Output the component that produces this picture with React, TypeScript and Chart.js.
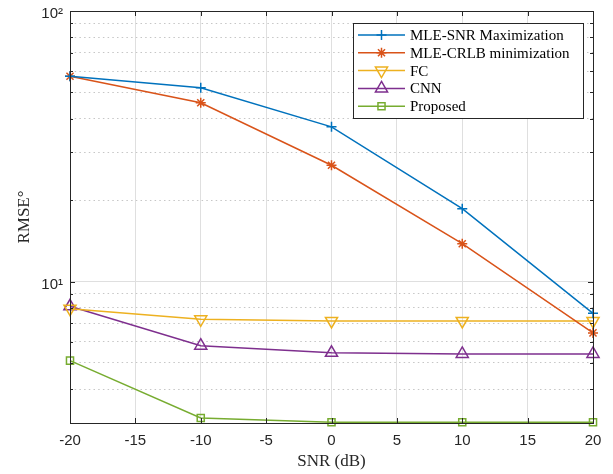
import React, { useEffect, useRef } from "react";
import { Chart, registerables } from "chart.js";
import { drawPoint } from "chart.js/helpers";

Chart.register(...registerables);

const snr = [-20, -10, 0, 10, 20];
const mleSnr = [57.4, 52.0, 37.3, 18.6, 7.63];
const mleCrlb = [57.4, 45.8, 26.9, 13.8, 6.46];
const fc = [7.94, 7.25, 7.15, 7.15, 7.15];
const cnn = [8.1, 5.79, 5.45, 5.4, 5.4];
const proposed = [5.1, 3.13, 3.02, 3.02, 3.02];

const xTicks = [-20, -15, -10, -5, 0, 5, 10, 15, 20];
const yTicks = [3, 4, 5, 6, 7, 8, 9, 10, 20, 30, 40, 50, 60, 70, 80, 90, 100];
const yLabels: Record<number, string> = { 10: "10\u00B9", 100: "10\u00B2" };

const seriesNames = [
  "MLE-SNR Maximization",
  "MLE-CRLB minimization",
  "FC",
  "CNN",
  "Proposed",
];
const colors = ["#0072BD", "#D95319", "#EDB120", "#7E2F8E", "#77AC30"];

const SERIF = "'Liberation Serif', 'DejaVu Serif', serif";
const SANS = "'Liberation Sans', Arial, sans-serif";

const isMajor = (v: number) => v === 10 || v === 100;

const boxPlugin = {
  id: "boxPlugin",
  afterDatasetsDraw(chart: any) {
    const { ctx, chartArea } = chart;
    const { left, right, top, bottom } = chartArea;
    const xs = chart.scales.x;
    const ys = chart.scales.y;
    ctx.save();
    ctx.strokeStyle = "#262626";
    ctx.lineWidth = 1;
    ctx.beginPath();
    xTicks.forEach((t) => {
      const px = Math.round(xs.getPixelForValue(t)) + 0.5;
      ctx.moveTo(px, bottom);
      ctx.lineTo(px, bottom - 5);
      ctx.moveTo(px, top);
      ctx.lineTo(px, top + 5);
    });
    yTicks.forEach((t) => {
      const py = Math.round(ys.getPixelForValue(t)) + 0.5;
      const len = isMajor(t) ? 5 : 3;
      ctx.moveTo(left, py);
      ctx.lineTo(left + len, py);
      ctx.moveTo(right, py);
      ctx.lineTo(right - len, py);
    });
    ctx.stroke();
    ctx.strokeRect(
      Math.round(left) + 0.5,
      Math.round(top) + 0.5,
      Math.round(right - left),
      Math.round(bottom - top)
    );
    ctx.restore();
  },
};

const legendPlugin = {
  id: "matLegend",
  afterDraw(chart: any) {
    const { ctx } = chart;
    const bx = 353;
    const by = 23;
    const bw = 230;
    const bh = 95;
    ctx.save();
    ctx.fillStyle = "#ffffff";
    ctx.fillRect(bx, by, bw, bh);
    ctx.strokeStyle = "#262626";
    ctx.lineWidth = 1;
    ctx.strokeRect(bx + 0.5, by + 0.5, bw, bh);
    ctx.font = `15px ${SERIF}`;
    ctx.textBaseline = "middle";
    ctx.textAlign = "left";
    chart.data.datasets.forEach((ds: any, i: number) => {
      const cy = 35 + i * 17.8;
      ctx.strokeStyle = ds.borderColor;
      ctx.lineWidth = ds.borderWidth;
      ctx.beginPath();
      ctx.moveTo(358, cy);
      ctx.lineTo(405, cy);
      ctx.stroke();
      const style = {
        pointStyle: ds.pointStyle,
        rotation: ds.pointRotation || 0,
        radius: ds.pointRadius,
        borderWidth: ds.pointBorderWidth,
      };
      ctx.fillStyle = "rgba(0,0,0,0)";
      ctx.strokeStyle = ds.borderColor;
      ctx.lineWidth = ds.pointBorderWidth;
      drawPoint(ctx, style as any, 381.5, cy);
      ctx.fillStyle = "#000000";
      ctx.fillText(ds.label, 410, cy + 1);
    });
    ctx.restore();
  },
};

export default function App() {
  const ref = useRef<HTMLCanvasElement | null>(null);
  useEffect(() => {
    if (!ref.current) return;
    const values = [mleSnr, mleCrlb, fc, cnn, proposed];
    const shapes = ["cross", "star", "triangle", "triangle", "rect"];
    const rots = [0, 0, 180, 0, 0];
    const radii = [5, 5, 7, 7, 5];
    const datasets = values.map((vals, i) => ({
      label: seriesNames[i],
      data: snr.map((x, j) => ({ x, y: vals[j] })),
      borderColor: colors[i],
      backgroundColor: "rgba(0,0,0,0)",
      borderWidth: 1.5,
      pointStyle: shapes[i],
      pointRotation: rots[i],
      pointRadius: radii[i],
      pointHoverRadius: radii[i],
      pointBorderWidth: 1.5,
      pointBorderColor: colors[i],
      pointBackgroundColor: "rgba(0,0,0,0)",
      tension: 0,
      clip: false as any,
    }));
    const chart = new Chart(ref.current, {
      type: "line",
      data: { datasets },
      plugins: [boxPlugin, legendPlugin],
      options: {
        animation: false,
        responsive: false,
        devicePixelRatio: 1,
        layout: { padding: { top: 11, right: 20, left: 0, bottom: 0 } },
        plugins: { legend: { display: false }, tooltip: { enabled: false } },
        scales: {
          x: {
            type: "linear",
            min: -20,
            max: 20,
            afterBuildTicks: (s: any) => {
              s.ticks = xTicks.map((v) => ({ value: v }));
            },
            afterFit: (s: any) => {
              s.height = 51;
              s.paddingLeft = 0;
              s.paddingRight = 0;
            },
            ticks: {
              color: "#262626",
              font: { family: SANS, size: 15 },
              padding: 9,
              maxRotation: 0,
              autoSkip: false,
              callback: (v: any) => String(v),
            },
            grid: { color: "#dfdfdf", lineWidth: 1, drawTicks: false },
            border: { display: false },
            title: {
              display: true,
              text: "SNR (dB)",
              font: { family: SERIF, size: 17 },
              color: "#262626",
              padding: { top: 0, bottom: 2 },
            },
          },
          y: {
            type: "logarithmic",
            min: 3,
            max: 100,
            afterBuildTicks: (s: any) => {
              s.ticks = yTicks.map((v) => ({ value: v, major: isMajor(v) }));
            },
            afterFit: (s: any) => {
              s.width = 70;
              s.paddingTop = 0;
              s.paddingBottom = 0;
            },
            ticks: {
              color: "#262626",
              font: { family: SANS, size: 15 },
              padding: 7,
              labelOffset: 3,
              autoSkip: false,
              callback: (v: any) => yLabels[Number(v)] || "",
            },
            grid: {
              color: (c: any) =>
                c.tick && isMajor(c.tick.value) ? "#dfdfdf" : "#c6c6c6",
              lineWidth: 1,
              drawTicks: false,
            },
            border: {
              display: false,
              dash: (c: any) =>
                c.tick && !isMajor(c.tick.value) ? [1.5, 3.2] : [],
            },
            title: {
              display: true,
              text: "RMSE\u00B0",
              font: { family: SERIF, size: 17 },
              color: "#262626",
              padding: { top: 14, bottom: 0 },
            },
          },
        },
      },
    } as any);
    return () => chart.destroy();
  }, []);
  return (
    <div style={{ position: "fixed", left: 0, top: 0, width: 613, height: 474, background: "#fff" }}>
      <canvas ref={ref} width={613} height={474} style={{ width: 613, height: 474, display: "block" }} />
    </div>
  );
}
